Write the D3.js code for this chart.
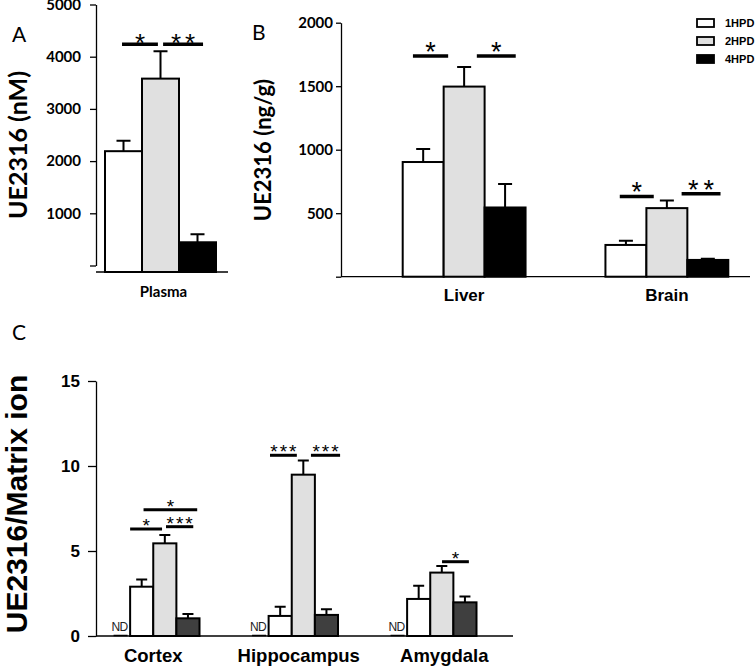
<!DOCTYPE html>
<html>
<head>
<meta charset="utf-8">
<script src="https://cdn.jsdelivr.net/npm/d3@7"></script>
<style>
body { margin: 0; background: #fff; }
</style>
</head>
<body>
<script>
const hpd = ["1HPD", "2HPD", "4HPD"];
const fillsAB = ["#ffffff", "#e0e0e0", "#000000"];
const fillsC = ["#ffffff", "#e0e0e0", "#3f3f3f"];

// A - plasma
const plasmaMean = [2190, 3580, 445];
const plasmaErr = [200, 525, 155];
const yTicksA = [0, 1000, 2000, 3000, 4000, 5000];

// B - tissues
const tissues = ["Liver", "Brain"];
const liverMean = [903, 1497, 545];
const liverErr = [102, 155, 184];
const brainMean = [250, 540, 132];
const brainErr = [34, 60, 10];
const yTicksB = [0, 500, 1000, 1500, 2000];

// C - brain regions (first slot is ND)
const regions = ["Cortex", "Hippocampus", "Amygdala"];
const slotsC = ["ND", "1HPD", "2HPD", "4HPD"];
const cortexMean = [2.9, 5.45, 1.04];
const cortexErr = [0.43, 0.49, 0.25];
const hippoMean = [1.18, 9.49, 1.24];
const hippoErr = [0.54, 0.84, 0.33];
const amygMean = [2.18, 3.73, 1.98];
const amygErr = [0.78, 0.39, 0.35];
const yTicksC = [0, 5, 10, 15];

// significance bars: group, from / to in bar units, level, label
const sigA = [
  ["Plasma", 0.46, 1.43, 4240, "*"],
  ["Plasma", 1.57, 2.65, 4240, "**"]
];
const sigB = [
  ["Liver", 0.25, 1.11, 1737, "*"],
  ["Liver", 1.81, 2.76, 1737, "*"],
  ["Brain", 0.35, 1.18, 632, "*"],
  ["Brain", 1.86, 2.81, 653, "**"]
];
const sigC = [
  ["Cortex", 1.0, 2.38, 6.3, "*"],
  ["Cortex", 2.55, 3.73, 6.43, "***"],
  ["Cortex", 1.58, 3.9, 7.43, "*"],
  ["Hippocampus", 1.06, 2.22, 10.63, "***"],
  ["Hippocampus", 2.83, 4.09, 10.63, "***"],
  ["Amygdala", 2.51, 3.67, 4.37, "*"]
];

const svg = d3.select("body").append("svg")
  .attr("width", 756)
  .attr("height", 671)
  .style("background", "#fff");

const calibri = "Lato, 'Open Sans', sans-serif";
const arial = "'Liberation Sans', Arial, sans-serif";

function styleAxis(g, font, size) {
  g.select(".domain").attr("stroke", "#000").attr("stroke-width", 1.3);
  g.selectAll(".tick line").attr("stroke", "#000").attr("stroke-width", 1.3);
  g.selectAll(".tick text")
    .attr("fill", "#000")
    .style("font-family", font)
    .style("font-weight", "bold")
    .style("font-size", size + "px");
}

function drawBars(g, groups, x, inner, y, base, means, errs, fills, cap, keys) {
  groups.forEach((grp, gi) => {
    const rows = means[gi].map((v, i) => ({ k: keys[i], v: v, e: errs[gi][i], f: fills[i] }));
    const gg = g.append("g");
    gg.selectAll(".err")
      .data(rows)
      .enter().append("path")
      .attr("stroke", "#000")
      .attr("stroke-width", 2)
      .attr("fill", "none")
      .attr("d", d => {
        const cx = x(grp) + inner(d.k) + inner.bandwidth() / 2;
        return "M" + cx + "," + y(d.v) + "V" + y(d.v + d.e) +
          "M" + (cx - cap / 2) + "," + y(d.v + d.e) + "H" + (cx + cap / 2);
      });
    gg.selectAll("rect")
      .data(rows)
      .enter().append("rect")
      .attr("x", d => x(grp) + inner(d.k))
      .attr("y", d => y(d.v))
      .attr("width", inner.bandwidth())
      .attr("height", d => base - y(d.v))
      .attr("fill", d => d.f)
      .attr("stroke", "#000")
      .attr("stroke-width", 2);
  });
}

function drawSig(g, sig, x, unit, y, size, spacing, dy, lw) {
  sig.forEach(s => {
    const x0 = x(s[0]) + s[1] * unit;
    const x1 = x(s[0]) + s[2] * unit;
    g.append("line")
      .attr("x1", x0).attr("x2", x1)
      .attr("y1", y(s[3])).attr("y2", y(s[3]))
      .attr("stroke", "#000")
      .attr("stroke-width", lw);
    g.append("text")
      .attr("x", (x0 + x1) / 2 + spacing / 2)
      .attr("y", y(s[3]) + dy)
      .attr("text-anchor", "middle")
      .style("font-family", arial)
      .style("font-size", size + "px")
      .style("letter-spacing", spacing + "px")
      .text(s[4]);
  });
}

// ---------- Panel A ----------
const gA = svg.append("g");
const yA = d3.scaleLinear().domain([0, 5000]).range([265.5, 4.5]);
const xA = d3.scaleBand().domain(["Plasma"]).range([105, 216]);
const innerA = d3.scaleBand().domain(hpd).range([0, xA.bandwidth()]);
const baseA = 272;

gA.append("g")
  .attr("transform", "translate(96,0)")
  .call(d3.axisLeft(yA).tickValues(yTicksA).tickSize(6).tickSizeOuter(0).tickPadding(9)
    .tickFormat(d => d === 0 ? "" : d))
  .call(g => styleAxis(g, calibri, 15));

gA.append("line")
  .attr("x1", 96).attr("x2", 228)
  .attr("y1", baseA).attr("y2", baseA)
  .attr("stroke", "#000").attr("stroke-width", 1.3);

drawBars(gA, ["Plasma"], xA, innerA, yA, baseA, [plasmaMean], [plasmaErr], fillsAB, 14, hpd);
drawSig(gA, sigA, xA, innerA.bandwidth(), yA, 26, 4, 8, 3.5);

gA.append("text")
  .attr("x", xA("Plasma") + xA.bandwidth() / 2 + 3)
  .attr("y", 297)
  .attr("text-anchor", "middle")
  .style("font-family", calibri)
  .style("font-weight", "bold")
  .style("font-size", "15px")
  .text("Plasma");

gA.append("text")
  .attr("transform", "translate(27,145) rotate(-90)")
  .attr("text-anchor", "middle")
  .style("font-family", calibri)
  .style("font-weight", "bold")
  .style("font-size", "25px")
  .text("UE2316 (nM)");

gA.append("text")
  .attr("x", 12).attr("y", 42)
  .style("font-family", calibri)
  .style("font-size", "21px")
  .text("A");

// ---------- Panel B ----------
const gB = svg.append("g");
const yB = d3.scaleLinear().domain([0, 2000]).range([276.7, 22.7]);
const xB = d3.scaleBand().domain(tissues).range([402.7, 728.3]).paddingInner(0.394);
const innerB = d3.scaleBand().domain(hpd).range([0, xB.bandwidth()]);
const baseB = yB(0);

gB.append("g")
  .attr("transform", "translate(341,0)")
  .call(d3.axisLeft(yB).tickValues(yTicksB).tickSize(5).tickSizeOuter(0).tickPadding(3)
    .tickFormat(d => d === 0 ? "" : d))
  .call(g => styleAxis(g, calibri, 15));

gB.append("line")
  .attr("x1", 341).attr("x2", 750)
  .attr("y1", baseB).attr("y2", baseB)
  .attr("stroke", "#000").attr("stroke-width", 1.3);

drawBars(gB, tissues, xB, innerB, yB, baseB, [liverMean, brainMean], [liverErr, brainErr], fillsAB, 14, hpd);
drawSig(gB, sigB, xB, innerB.bandwidth(), yB, 27, 5, 5, 3.5);

gB.selectAll(".cat")
  .data(tissues)
  .enter().append("text")
  .attr("x", d => xB(d) + xB.bandwidth() / 2)
  .attr("y", 301)
  .attr("text-anchor", "middle")
  .style("font-family", arial)
  .style("font-weight", "bold")
  .style("font-size", "17px")
  .text(d => d);

gB.append("text")
  .attr("transform", "translate(271,150) rotate(-90)")
  .attr("text-anchor", "middle")
  .style("font-family", calibri)
  .style("font-weight", "bold")
  .style("font-size", "22px")
  .text("UE2316 (ng/g)");

gB.append("text")
  .attr("x", 252).attr("y", 40)
  .style("font-family", calibri)
  .style("font-size", "21px")
  .text("B");

// legend
const leg = svg.append("g").attr("transform", "translate(697,19)");
hpd.forEach((k, i) => {
  leg.append("rect")
    .attr("x", 0).attr("y", i * 18)
    .attr("width", 17).attr("height", 8)
    .attr("fill", fillsAB[i])
    .attr("stroke", "#000")
    .attr("stroke-width", 1.8);
  leg.append("text")
    .attr("x", 28).attr("y", i * 18 + 8)
    .style("font-family", "'Liberation Sans Narrow', " + arial)
    .style("font-weight", "bold")
    .style("font-size", "11px")
    .text(k);
});

// ---------- Panel C ----------
const gC = svg.append("g");
const yC = d3.scaleLinear().domain([0, 15]).range([636, 381]);
const xC = d3.scaleBand().domain(regions).range([107, 476.5]).paddingInner(0.332);
const innerC = d3.scaleBand().domain(slotsC).range([0, xC.bandwidth()]);
const baseC = yC(0);

gC.append("g")
  .attr("transform", "translate(96,0)")
  .call(d3.axisLeft(yC).tickValues(yTicksC).tickSize(8).tickSizeOuter(0).tickPadding(8))
  .call(g => styleAxis(g, arial, 17));

gC.append("line")
  .attr("x1", 96).attr("x2", 513)
  .attr("y1", baseC).attr("y2", baseC)
  .attr("stroke", "#000").attr("stroke-width", 1.3);

drawBars(gC, regions, xC, innerC, yC, baseC,
  [cortexMean, hippoMean, amygMean], [cortexErr, hippoErr, amygErr], fillsC, 11, hpd);
drawSig(gC, sigC, xC, innerC.bandwidth(), yC, 19, 2, 3, 3);

// ND marks
regions.forEach(r => {
  const cx = xC(r) + innerC("ND") + innerC.bandwidth() / 2;
  gC.append("line")
    .attr("x1", cx - 5).attr("x2", cx + 9)
    .attr("y1", baseC - 0.5).attr("y2", baseC - 0.5)
    .attr("stroke", "#000").attr("stroke-width", 1.5);
  gC.append("text")
    .attr("x", cx + 1).attr("y", baseC - 5)
    .attr("text-anchor", "middle")
    .style("font-family", arial)
    .style("font-size", "12px")
    .style("letter-spacing", "-0.5px")
    .attr("fill", "#222")
    .text("ND");
});

gC.selectAll(".cat")
  .data(regions)
  .enter().append("text")
  .attr("x", (d, i) => xC(d) + xC.bandwidth() / 2 + i * 7)
  .attr("y", 662)
  .attr("text-anchor", "middle")
  .style("font-family", arial)
  .style("font-weight", "bold")
  .style("font-size", "18.5px")
  .text(d => d);

gC.append("text")
  .attr("transform", "translate(27,504) rotate(-90)")
  .attr("text-anchor", "middle")
  .style("font-family", arial)
  .style("font-weight", "bold")
  .style("font-size", "30px")
  .text("UE2316/Matrix ion");

gC.append("text")
  .attr("x", 12).attr("y", 340)
  .style("font-family", calibri)
  .style("font-size", "21px")
  .text("C");
</script>
</body>
</html>
